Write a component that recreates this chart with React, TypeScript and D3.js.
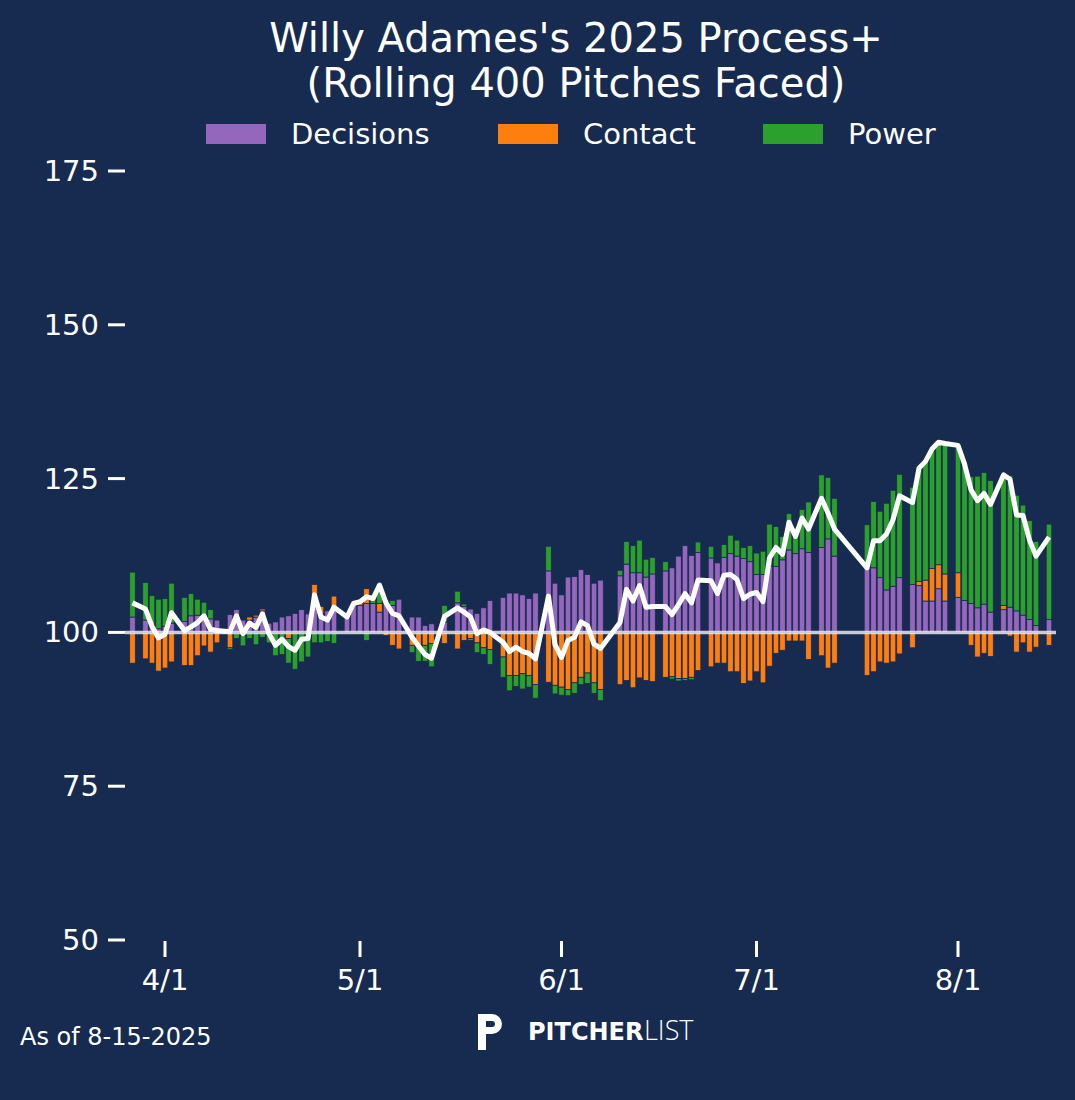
import { useEffect } from "react";
import * as d3 from "d3";

// day = days since 4/1, decisions / contact / power as deviation from 100
const GAME_DAYS = [-5,-3,-2,-1,0,1,3,4,5,6,7,8,10,11,12,13,14,15,16,17,18,19,20,21,22,23,24,25,26,28,29,30,31,32,33,34,35,36,38,39,40,41,43,45,46,47,48,49,50,52,53,54,55,56,57,59,60,61,62,63,64,65,66,67,70,71,72,73,74,75,77,78,79,80,81,82,84,85,86,87,88,89,90,91,92,93,94,95,96,97,98,99,101,102,103,108,109,110,111,112,113,115,116,117,118,119,120,122,123,124,125,126,127,129,130,131,132,133,134,136];
const DECISIONS = [2.5,2,1.2,0.6,1,1.5,1.8,2.7,2.8,2,2.2,2,2.9,3.7,2,2,2.5,3.5,1.5,1.7,2.5,2.7,3.1,3.7,3,5.7,3,3.5,3.5,2.5,4.7,4.4,4.7,4.7,3.3,4.7,4.4,5.4,2.5,2.5,1.1,1.4,1.7,4.8,4.2,3.8,3.1,4,5.2,5.7,6.4,6.4,6.1,5.5,6.4,10,8,6.1,9,9.1,10.2,9.4,8,8.5,9.2,11.1,9.7,9.7,9,9.5,10,10.5,12.4,14.1,12.5,13,12.1,11.3,12.2,12.8,12.4,12,11.5,9.4,9.4,10.8,10.7,11.8,13.4,12.8,13.6,13,13.8,15.2,12.4,10.6,10.5,8.9,6.9,7.5,8.9,7.8,7.6,5.1,5.1,7.1,5.1,5.7,5.2,4.7,4,4.6,3.3,3.7,4.1,3.5,2.8,2.1,1.1,2.1];
const CONTACT = [-5,-4.3,-5,-6.3,-5.8,-4.8,-5.4,-5.4,-3.8,-2.2,-3.2,-1.7,-2.5,0,-0.5,0.5,0.3,0.3,0,0,0,-1,0,0,0,2.1,1.2,0,2.4,0,0,0.6,2.4,0,1.4,-0.5,-2.1,-2.7,-2.1,-2.1,-2.1,-1.8,-1.8,-2.7,-1.3,-1,-1.7,-2.5,-2.8,-4,-7,-7,-6.7,-7,-8.5,-8.1,-8.6,-8.9,-9.3,-8.2,-7.3,-6.6,-8.2,-9.3,-8.5,-7.8,-9,-7.4,-7.8,-8,-7.3,-7.2,-7.5,-7.5,-7.3,-6.2,-5.6,-5,-5,-6.4,-6.4,-8.3,-7.9,-6.4,-8.2,-5.5,-3.4,-2.9,-1.4,-1.4,-1.4,-4.4,-3.8,-5.8,-5,-7,-6.4,-4.8,-5,-4.8,-3.5,-2.5,0.7,3.4,5.3,3.9,4.4,4,0,-2.1,-4,-3.4,-3.9,0.7,-0.6,-3.2,-1.7,-3.2,-2.4,-2.1];
const POWER = [7.3,6.1,4.8,4.8,4.5,6.5,3.9,3.6,2.6,2.9,1.5,0,-0.3,-1,-1.7,-1,-2,-0.8,-1.7,-3.8,-3.6,-4,-6,-4.8,-4,-1.7,-1.7,-1.5,-1.8,0,0,0,-1.3,0.8,3,0.6,0.8,0,-1.2,-2.6,-2.6,-3.8,2.7,1.9,0.4,-0.3,-1.6,-1.1,-2.4,-3.3,-2.5,-1.8,-2.5,-1.9,-2.2,4,-1.4,-1.3,-1,-1.7,-1.2,-1.7,-1.7,-1.8,0.9,3.7,4.4,5.3,2.9,2.7,1.5,-0.4,-0.4,-0.3,-0.4,1.7,1.9,0,2.1,3,2.6,1.8,2.6,3.5,3.8,6.8,6.5,3.8,5.9,4.2,6.4,8.2,11.8,10,9.4,6.9,10.8,10.8,14.1,15.6,16.8,15.8,18.4,19.3,19.4,19.9,21.2,20.7,22.2,20.6,21.4,21.4,21.4,21.2,21.4,18.8,17.9,16.1,13.7,15.5];

const Y_TICKS = [50, 75, 100, 125, 150, 175];
const X_TICKS = [
  { day: 0, label: "4/1" },
  { day: 30, label: "5/1" },
  { day: 61, label: "6/1" },
  { day: 91, label: "7/1" },
  { day: 122, label: "8/1" },
];
const LEGEND = [
  { name: "Decisions", color: "#9467bd", x: 206 },
  { name: "Contact", color: "#ff7f0e", x: 498 },
  { name: "Power", color: "#2ca02c", x: 763 },
];

const BG = "#172a4f";
const FONT = "DejaVu Sans, sans-serif";

export default function App() {
  useEffect(() => {
    document.body.style.margin = "0";
  }, []);

  const x = d3.scaleLinear().domain([0, 122]).range([165, 958]);
  const y = d3.scaleLinear().domain([50, 175]).range([940, 171]);
  const bw = 5.6;

  const games = GAME_DAYS.map((day, i) => ({
    day,
    parts: [
      { v: DECISIONS[i], c: "#9467bd" },
      { v: CONTACT[i], c: "#ff7f0e" },
      { v: POWER[i], c: "#2ca02c" },
    ],
    total: 100 + DECISIONS[i] + CONTACT[i] + POWER[i],
  }));

  const rects: any[] = [];
  games.forEach((g, gi) => {
    let up = 100, down = 100;
    g.parts.forEach((p, pi) => {
      if (p.v === 0) return;
      const a = p.v > 0 ? up : down;
      const b = a + p.v;
      if (p.v > 0) up = b; else down = b;
      rects.push(
        <rect key={gi + "-" + pi} x={x(g.day) - bw / 2} width={bw}
          y={y(Math.max(a, b))} height={Math.abs(y(a) - y(b))}
          fill={p.c} stroke={BG} strokeWidth={0.8} />
      );
    });
  });

  const line = d3.line<any>().x((g) => x(g.day)).y((g) => y(g.total))(games) || "";

  return (
    <svg width={1075} height={1100} style={{ display: "block", background: BG }} fontFamily={FONT}>
      <rect width={1075} height={1100} fill={BG} />
      <text x={576} y={52} fill="#fff" fontSize={40} textAnchor="middle">Willy Adames's 2025 Process+</text>
      <text x={576} y={97} fill="#fff" fontSize={40} textAnchor="middle">(Rolling 400 Pitches Faced)</text>
      {LEGEND.map((l) => (
        <g key={l.name}>
          <rect x={l.x} y={124} width={60} height={20} fill={l.color} />
          <text x={l.x + 85} y={144} fill="#fff" fontSize={29}>{l.name}</text>
        </g>
      ))}
      {Y_TICKS.map((t) => (
        <g key={t}>
          <line x1={108} x2={125} y1={y(t)} y2={y(t)} stroke="#fff" strokeWidth={3} />
          <text x={99} y={y(t) + 10} fill="#fff" fontSize={29} textAnchor="end">{t}</text>
        </g>
      ))}
      {X_TICKS.map((t) => (
        <g key={t.label}>
          <line x1={x(t.day)} x2={x(t.day)} y1={941} y2={957} stroke="#fff" strokeWidth={3} />
          <text x={x(t.day)} y={990} fill="#fff" fontSize={29} textAnchor="middle">{t.label}</text>
        </g>
      ))}
      {rects}
      <line x1={125} x2={1056} y1={y(100)} y2={y(100)} stroke="#e6e6ee" strokeOpacity={0.85} strokeWidth={3.5} />
      <path d={line} fill="none" stroke="#fff" strokeWidth={5} strokeLinejoin="round" />
      <text x={20} y={1045} fill="#fff" fontSize={24}>As of 8-15-2025</text>
      <g transform="translate(476,1010)">
        <path d="M2 4 h14 a10 10 0 0 1 0 20 h-6 v16 h-8 z M10 11 v6 h6 a3 3 0 0 0 0 -6 z" fill="#fff" />
        <text x={52} y={30} fill="#fff" fontSize={24} fontWeight="bold">PITCHER</text>
        <text x={168} y={30} fill="#fff" fontSize={27} fontWeight={300} fontFamily="Open Sans, sans-serif">LIST</text>
      </g>
    </svg>
  );
}
